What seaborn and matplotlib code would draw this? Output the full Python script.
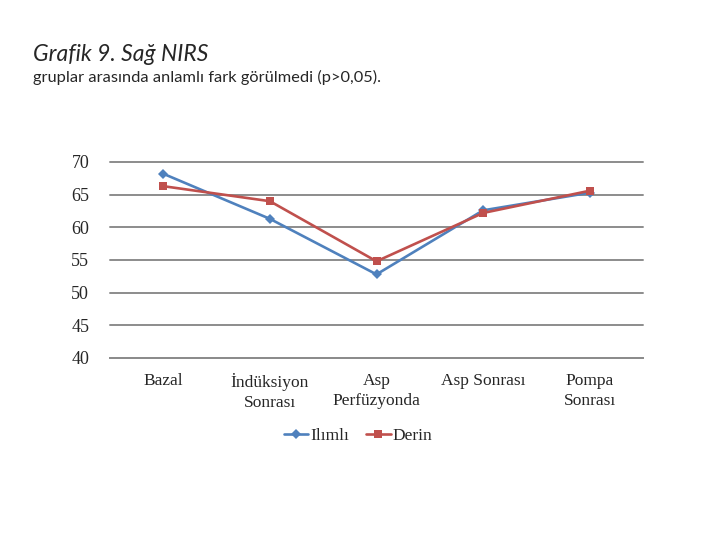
import matplotlib
matplotlib.use("Agg")
import matplotlib.pyplot as plt
import seaborn as sns
import pandas as pd

categories = ["Bazal", "İndüksiyon\nSonrası", "Asp\nPerfüzyonda", "Asp Sonrası", "Pompa\nSonrası"]
ilimli = [68.2, 61.3, 52.8, 62.6, 65.3]
derin = [66.3, 64.0, 54.8, 62.2, 65.6]
series_names = ["Ilımlı", "Derin"]
yticks = [40, 45, 50, 55, 60, 65, 70]

sns.set_theme(style="white")
SERIF = ['Liberation Serif', 'DejaVu Serif']
SANS = ['Lato', 'DejaVu Sans']
plt.rcParams['font.family'] = SERIF

rows = []
for i, c in enumerate(categories):
    rows.append({"x": i, "val": ilimli[i], "grp": series_names[0]})
    rows.append({"x": i, "val": derin[i], "grp": series_names[1]})
df = pd.DataFrame(rows)

fig = plt.figure(figsize=(7.2, 5.4), dpi=100)
ax = fig.add_axes([110/720, 1-358/540, (643-110)/720, (358-162)/540])

palette = {"Ilımlı": "#4F81BD", "Derin": "#C0504D"}
markers = {"Ilımlı": "D", "Derin": "s"}
sns.lineplot(data=df, x="x", y="val", hue="grp", style="grp", palette=palette,
             markers=markers, dashes=False, markersize=5.5, linewidth=1.9,
             markeredgewidth=0, ax=ax, legend=True)

ax.set_xlim(-0.5, 4.5)
ax.set_ylim(40, 70)
ax.set_yticks(yticks)
ax.set_yticklabels([str(v) for v in yticks], fontsize=13, family=list(SERIF))
ax.set_xticks(range(len(categories)))
ax.set_xticklabels(categories, fontsize=12.5, linespacing=1.3, family=list(SERIF))
ax.tick_params(axis='y', length=0, pad=15)
ax.tick_params(axis='x', length=0, pad=11)
ax.yaxis.grid(True, color="#8C8C8C", linewidth=1.4)
for gl in ax.get_ygridlines():
    gl.set_clip_on(False)
ax.set_axisbelow(True)
for s in ["top", "right", "left"]:
    ax.spines[s].set_visible(False)
ax.spines["bottom"].set_color("#8C8C8C")
ax.spines["bottom"].set_linewidth(1.4)
ax.set_xlabel("")
ax.set_ylabel("")

handles, labels = ax.get_legend_handles_labels()
leg = ax.legend(handles, labels, loc="center", bbox_to_anchor=(358/720, 1-436/540),
                bbox_transform=fig.transFigure, ncol=2, frameon=False,
                prop={'family': list(SERIF), 'size': 12.5},
                handlelength=1.4, handletextpad=0.1, columnspacing=1.0)

fig.text(33/720, 1-61/540, "Grafik 9. Sağ NIRS", fontsize=16.5, style="italic",
         family=list(SANS), va="baseline")
fig.text(33/720, 1-82/540, "gruplar arasında anlamlı fark görülmedi (p>0,05).", fontsize=11.8,
         family=list(SANS), va="baseline")

fig.savefig("out.png", dpi=100)
